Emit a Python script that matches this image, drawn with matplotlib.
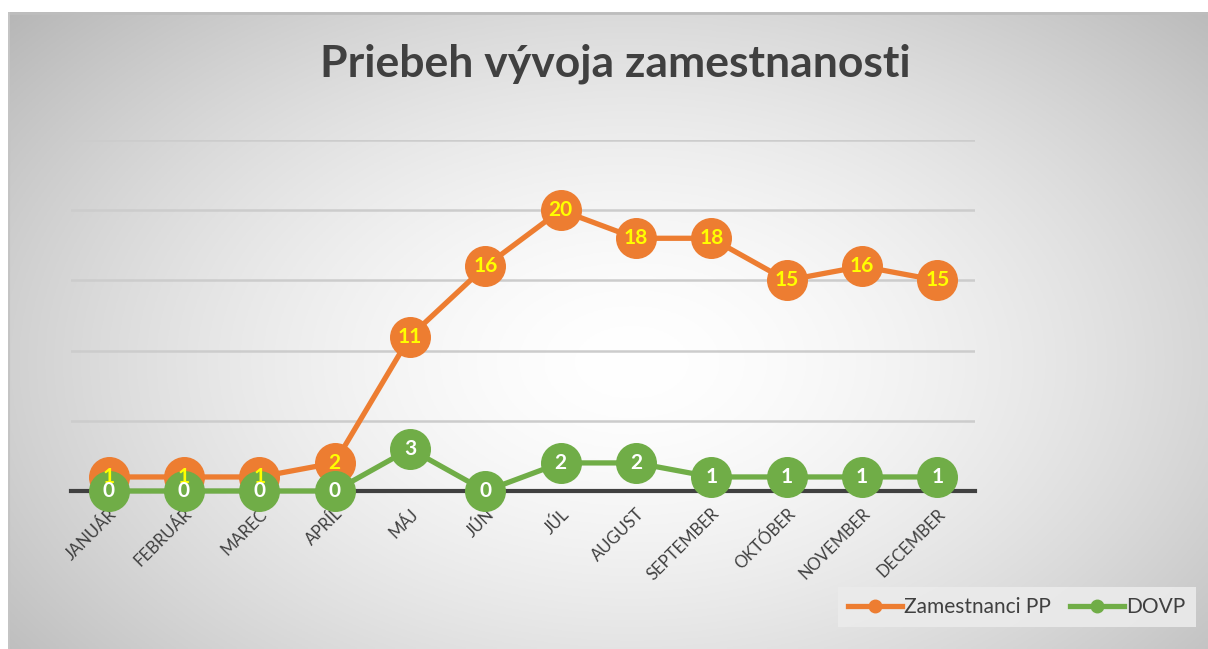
import numpy as np
import matplotlib
matplotlib.use("Agg")
import matplotlib.pyplot as plt
from matplotlib.lines import Line2D

months = ["JANUÁR", "FEBRUÁR", "MAREC", "APRÍL", "MÁJ", "JÚN", "JÚL", "AUGUST",
          "SEPTEMBER", "OKTÓBER", "NOVEMBER", "DECEMBER"]
zamestnanci_pp = [1, 1, 1, 2, 11, 16, 20, 18, 18, 15, 16, 15]
dovp = [0, 0, 0, 0, 3, 0, 2, 2, 1, 1, 1, 1]
series_names = ["Zamestnanci PP", "DOVP"]
title = "Priebeh vývoja zamestnanosti"

ORANGE = "#ED7D31"
GREEN = "#70AD47"
DARK = "#404040"
FONT = ["Lato", "DejaVu Sans"]

W, H = 1208, 649
fig = plt.figure(figsize=(W / 100, H / 100), dpi=100)
fig.patch.set_facecolor("white")

# background panel with radial gradient
x0, y0 = 8 / W, 12 / H
bg = fig.add_axes([x0, 0, 1 - x0, 1 - y0], zorder=0)
nx, ny = 400, 220
xx, yy = np.meshgrid(np.linspace(0, 1, nx), np.linspace(0, 1, ny))
cx, cy = 0.52, 0.55
r = np.sqrt(((xx - cx) / 0.62) ** 2 + ((yy - cy) / 0.75) ** 2)
val = 1.0 - 0.24 * np.clip(r, 0, 1.2) ** 1.6
img = np.dstack([val, val, val])
bg.imshow(img, extent=[0, 1, 0, 1], aspect="auto", origin="upper")
bg.set_xlim(0, 1)
bg.set_ylim(0, 1)
bg.axis("off")
bg.plot([0, 1], [0.998, 0.998], color="#bdbdbd", lw=2, transform=bg.transAxes)
bg.plot([0.001, 0.001], [0, 1], color="#c4c4c4", lw=1.5, transform=bg.transAxes)

# main axes
left, right = 71 / W, 975 / W
bottom, top = (H - 491) / H, (H - 140) / H
ax = fig.add_axes([left, bottom, right - left, top - bottom], zorder=2)
ax.set_facecolor("none")
x = np.arange(len(months))
ax.set_xlim(-0.5, len(months) - 0.5)
ax.set_ylim(0, 25)
for s in ax.spines.values():
    s.set_visible(False)
ax.set_yticks([5, 10, 15, 20, 25])
ax.yaxis.grid(True, color="#cccccc", lw=1.8)
ax.tick_params(axis="y", left=False, labelleft=False)
ax.axhline(0, color=DARK, lw=3, zorder=1, clip_on=False)

ax.set_xticks(x)
ax.set_xticklabels(months, rotation=45, ha="right", rotation_mode="anchor",
                   fontsize=12, color=DARK, family=FONT)
ax.tick_params(axis="x", bottom=False, pad=7)

ms = 28.5
ax.plot(x, zamestnanci_pp, color=ORANGE, lw=3.8, marker="o", ms=ms,
        mec=ORANGE, mfc=ORANGE, clip_on=False, zorder=3)
ax.plot(x, dovp, color=GREEN, lw=3.8, marker="o", ms=ms,
        mec=GREEN, mfc=GREEN, clip_on=False, zorder=4)
for xi, v in zip(x, zamestnanci_pp):
    ax.text(xi, v, str(v), ha="center", va="center", color="#FFFF00",
            fontsize=15, fontweight="bold", family=FONT, zorder=6)
for xi, v in zip(x, dovp):
    ax.text(xi, v, str(v), ha="center", va="center", color="white",
            fontsize=15, fontweight="bold", family=FONT, zorder=6)

fig.text(615 / W, 1 - 64 / H, title, ha="center", va="center", fontsize=32,
         fontweight="bold", color=DARK, family=FONT, zorder=5)

handles = [Line2D([0], [0], color=ORANGE, lw=3.8, marker="o", ms=9),
           Line2D([0], [0], color=GREEN, lw=3.8, marker="o", ms=9)]
leg = fig.legend(handles, series_names, loc="center right",
                 bbox_to_anchor=(1196 / W, 1 - 607 / H), ncol=2, frameon=True,
                 fancybox=False, prop={"family": FONT, "size": 15},
                 handlelength=2.6, handletextpad=0.1, columnspacing=0.9,
                 borderpad=0.5, borderaxespad=0)
leg.get_frame().set_facecolor("#ebebeb")
leg.get_frame().set_edgecolor("none")
leg.get_frame().set_alpha(0.9)
for t in leg.get_texts():
    t.set_color(DARK)
leg.set_zorder(5)

fig.savefig("out.png", dpi=100)
